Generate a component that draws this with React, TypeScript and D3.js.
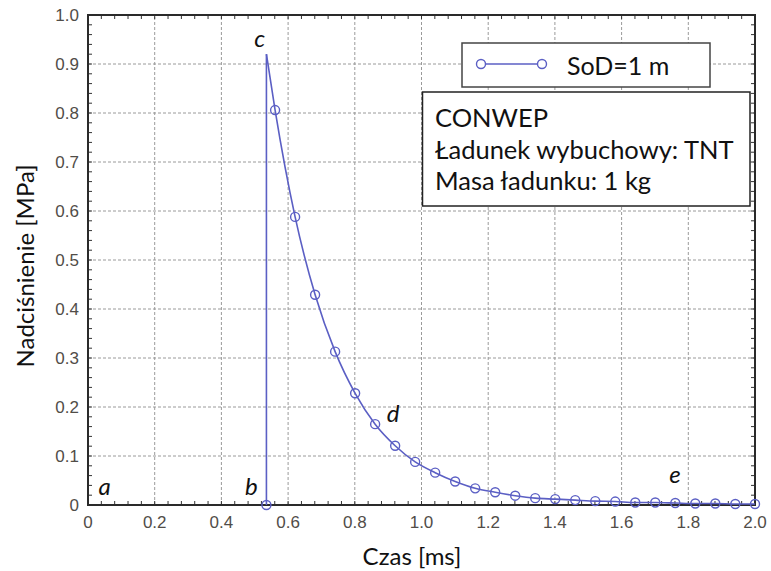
import React from 'react';
import * as d3 from 'd3';

// time [ms] and overpressure [MPa] (point 1 is the peak, no marker)
const timeMs = [0.535, 0.535, 0.561, 0.621, 0.681, 0.741, 0.801, 0.861, 0.921, 0.981, 1.041, 1.101, 1.161, 1.221, 1.281, 1.341, 1.401, 1.461, 1.521, 1.581, 1.641, 1.701, 1.761, 1.821, 1.881, 1.941, 2.0];
const pressureMPa = [0, 0.92, 0.806, 0.588, 0.429, 0.313, 0.228, 0.165, 0.121, 0.088, 0.066, 0.048, 0.034, 0.026, 0.019, 0.014, 0.012, 0.010, 0.008, 0.007, 0.005, 0.005, 0.004, 0.003, 0.003, 0.002, 0.002];
const peakIndex = 1;

const xTicks = [0, 0.2, 0.4, 0.6, 0.8, 1.0, 1.2, 1.4, 1.6, 1.8, 2.0];
const yTicks = [0, 0.1, 0.2, 0.3, 0.4, 0.5, 0.6, 0.7, 0.8, 0.9, 1.0];

const seriesName = 'SoD=1 m';
const infoLines = ['CONWEP', 'Ładunek wybuchowy: TNT', 'Masa ładunku: 1 kg'];

// phase labels a..e placed at data coordinates
const phaseLabels = ['a', 'b', 'c', 'd', 'e'];
const phaseT = [0.05, 0.49, 0.515, 0.915, 1.76];
const phaseP = [0.02, 0.02, 0.935, 0.17, 0.045];

const BlastPlot = () => {
    const svgRef = React.useRef(null);

    const W = 771, H = 571;
    const margin = {top: 15, right: 16, bottom: 66, left: 88};

    React.useEffect(() => {
        const svg = d3.select(svgRef.current);
        svg.selectAll("*").remove();

        const x = d3.scaleLinear().domain([0, 2]).range([margin.left, W - margin.right]);
        const y = d3.scaleLinear().domain([0, 1]).range([H - margin.bottom, margin.top]);

        const col = '#5b5fc4';
        const sans = 'Lato, "Open Sans", sans-serif';
        const tickFont = '"Liberation Sans", Arial, sans-serif';

        svg.append('rect').attr('width', W).attr('height', H).attr('fill', 'white');

        // grid
        const grid = svg.append('g').attr('stroke', '#9a9a9a').attr('stroke-width', 1).attr('stroke-dasharray', '3,2');
        xTicks.slice(1, -1).forEach(t => {
            grid.append('line').attr('x1', x(t)).attr('x2', x(t)).attr('y1', y(0)).attr('y2', y(1));
        });
        yTicks.slice(1, -1).forEach(t => {
            grid.append('line').attr('x1', x(0)).attr('x2', x(2)).attr('y1', y(t)).attr('y2', y(t));
        });

        // inner ticks on all four sides
        const tk = svg.append('g').attr('stroke', '#333').attr('stroke-width', 1);
        d3.range(0, 2.0001, 0.04).forEach(t => {
            tk.append('line').attr('x1', x(t)).attr('x2', x(t)).attr('y1', y(0)).attr('y2', y(0) - 4);
            tk.append('line').attr('x1', x(t)).attr('x2', x(t)).attr('y1', y(1)).attr('y2', y(1) + 4);
        });
        d3.range(0, 1.0001, 0.02).forEach(t => {
            tk.append('line').attr('x1', x(0)).attr('x2', x(0) + 4).attr('y1', y(t)).attr('y2', y(t));
            tk.append('line').attr('x1', x(2)).attr('x2', x(2) - 4).attr('y1', y(t)).attr('y2', y(t));
        });

        // frame
        svg.append('rect')
            .attr('x', x(0)).attr('y', y(1))
            .attr('width', x(2) - x(0)).attr('height', y(0) - y(1))
            .attr('fill', 'none').attr('stroke', '#2a2a2a').attr('stroke-width', 2);

        // tick labels
        const fmt = (d) => d === 0 ? '0' : d3.format('.1f')(d);
        svg.append('g').selectAll('text').data(xTicks).enter().append('text')
            .attr('x', d => x(d)).attr('y', y(0) + 23)
            .attr('text-anchor', 'middle')
            .style('font-family', tickFont).style('font-size', '17px').attr('fill', '#514d48')
            .text(fmt);
        svg.append('g').selectAll('text').data(yTicks).enter().append('text')
            .attr('x', x(0) - 9).attr('y', d => y(d) + 6)
            .attr('text-anchor', 'end')
            .style('font-family', tickFont).style('font-size', '17px').attr('fill', '#514d48')
            .text(fmt);

        // series
        const pts = timeMs.map((t, i) => ({t, p: pressureMPa[i], i}));
        const line = d3.line().x(d => x(d.t)).y(d => y(d.p));
        svg.append('path')
            .attr('d', line(pts.slice(0, peakIndex + 1)))
            .attr('fill', 'none').attr('stroke', col).attr('stroke-width', 1.6);
        svg.append('path')
            .attr('d', line.curve(d3.curveMonotoneX)(pts.slice(peakIndex)))
            .attr('fill', 'none').attr('stroke', col).attr('stroke-width', 1.6);
        svg.append('g').selectAll('circle').data(pts.filter(d => d.i !== peakIndex)).enter().append('circle')
            .attr('cx', d => x(d.t)).attr('cy', d => y(d.p)).attr('r', 4.5)
            .attr('fill', 'none').attr('stroke', col).attr('stroke-width', 1.4);

        // phase letters
        phaseLabels.forEach((s, i) => {
            svg.append('text')
                .attr('x', x(phaseT[i])).attr('y', y(phaseP[i]))
                .attr('text-anchor', 'middle')
                .style('font-family', sans).style('font-style', 'italic').style('font-size', '24px')
                .attr('fill', '#111').text(s);
        });

        // legend
        svg.append('rect').attr('x', 462).attr('y', 43).attr('width', 248).attr('height', 44)
            .attr('fill', 'white').attr('stroke', '#444').attr('stroke-width', 1.5);
        svg.append('line').attr('x1', 481).attr('x2', 542).attr('y1', 64).attr('y2', 64)
            .attr('stroke', col).attr('stroke-width', 1.6);
        [481, 542].forEach(cx => svg.append('circle').attr('cx', cx).attr('cy', 64).attr('r', 4.5)
            .attr('fill', 'white').attr('stroke', col).attr('stroke-width', 1.4));
        svg.append('text').attr('x', 567).attr('y', 75)
            .style('font-family', sans).style('font-size', '25px').attr('fill', '#111').text(seriesName);

        // info box
        svg.append('rect').attr('x', 422.5).attr('y', 92).attr('width', 327.5).attr('height', 114)
            .attr('fill', 'white').attr('stroke', '#222').attr('stroke-width', 1.5);
        infoLines.forEach((s, i) => {
            svg.append('text').attr('x', 435).attr('y', 127 + i * 31.5)
                .style('font-family', sans).style('font-size', '25.5px').attr('fill', '#111').text(s);
        });

        // axis titles
        svg.append('text')
            .attr('x', 412).attr('y', 565)
            .attr('text-anchor', 'middle')
            .style('font-family', sans).style('font-size', '24px').attr('fill', '#111')
            .text('Czas [ms]');
        svg.append('text')
            .attr('transform', 'translate(34,266) rotate(-90)')
            .attr('text-anchor', 'middle')
            .style('font-family', sans).style('font-size', '24px').attr('fill', '#111')
            .text('Nadciśnienie [MPa]');

    // eslint-disable-next-line react-hooks/exhaustive-deps
    }, []);

    return <svg ref={svgRef} width={W} height={H} style={{position: 'absolute', left: 0, top: 0}} />;
};

export default function App() {
    return <BlastPlot />;
}
